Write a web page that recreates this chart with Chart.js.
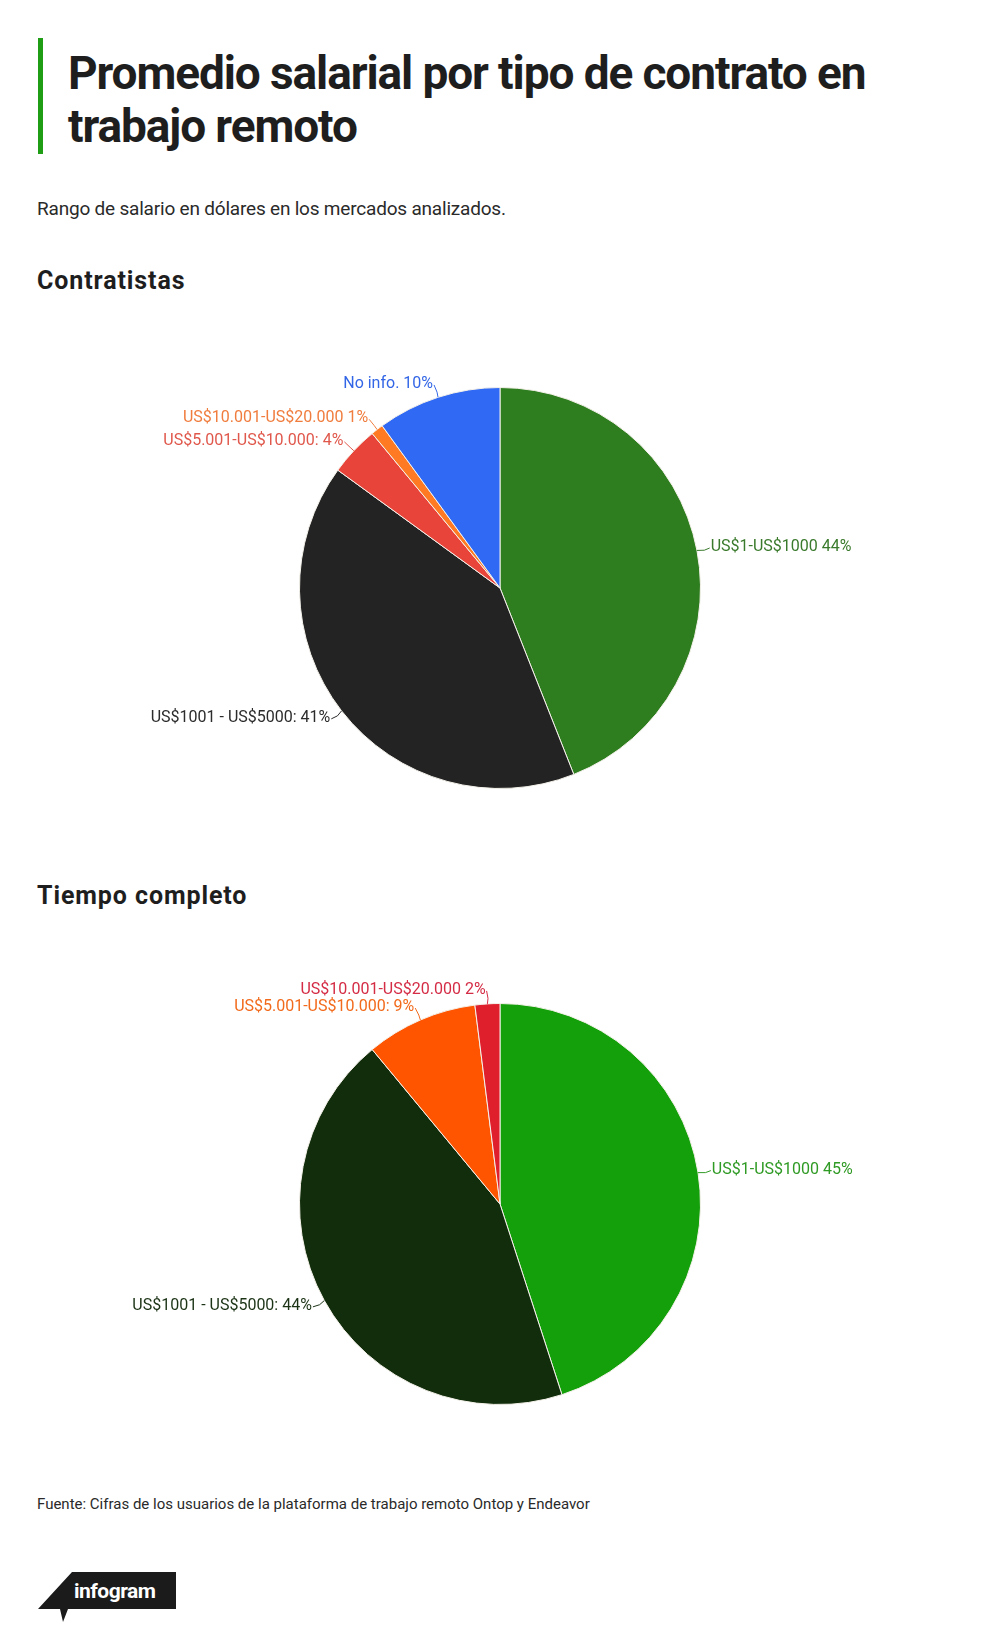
<!DOCTYPE html>
<html lang="es">
<head>
<meta charset="utf-8">
<title>Promedio salarial por tipo de contrato en trabajo remoto</title>
<script src="https://cdn.jsdelivr.net/npm/chart.js@4/dist/chart.umd.min.js"></script>
<style>
html,body{margin:0;padding:0;background:#fff;}
body{width:1000px;height:1641px;position:relative;overflow:hidden;font-family:Roboto,"Liberation Sans",sans-serif;color:#1e1e1e;}
.bar{position:absolute;left:38px;top:38px;width:5px;height:116px;background:#1f9d14;}
h1{position:absolute;left:68px;top:47px;margin:0;font-size:46px;line-height:53px;font-weight:700;letter-spacing:-1.1px;white-space:nowrap;}
.sub{position:absolute;left:37px;top:198px;font-size:19px;line-height:22px;letter-spacing:-0.2px;color:#2a2a2a;}
h2{position:absolute;left:37px;margin:0;font-size:25px;line-height:28px;font-weight:700;letter-spacing:0.9px;}
.chart{position:absolute;left:0;width:1000px;height:500px;}
.src{position:absolute;left:37px;top:1495px;font-size:15px;line-height:18px;letter-spacing:0;color:#2a2a2a;}
.logo{position:absolute;left:36px;top:1570px;}
</style>
</head>
<body>
<div class="bar"></div>
<h1>Promedio salarial por tipo de contrato en<br>trabajo remoto</h1>
<div class="sub">Rango de salario en dólares en los mercados analizados.</div>

<h2 style="top:267px">Contratistas</h2>
<div class="chart" style="top:338px"><canvas id="pie1"></canvas></div>

<h2 style="top:882px">Tiempo completo</h2>
<div class="chart" style="top:954px"><canvas id="pie2"></canvas></div>

<div class="src">Fuente: Cifras de los usuarios de la plataforma de trabajo remoto Ontop y Endeavor</div>

<svg class="logo" width="145" height="56" viewBox="0 0 145 56">
  <path d="M36 2 L140 2 L140 39 L32 39 L27 52 L24 39 L2 39 Z" fill="#1b1b1b"/>
  <text x="38" y="28" fill="#fff" font-family="'Liberation Sans Narrow','Roboto',sans-serif" font-size="21" font-weight="700" letter-spacing="-0.5">infogram</text>
</svg>

<script>
// Contratistas
const labelsContratistas = ["US$1-US$1000 44%", "US$1001 - US$5000: 41%", "US$5.001-US$10.000: 4%", "US$10.001-US$20.000 1%", "No info. 10%"]
const valoresContratistas = [44, 41, 4, 1, 10]
const coloresContratistas = ["#2e7d1f", "#232323", "#e8443a", "#ff7a22", "#2f69f4"]
const textoContratistas = ["#3a7a2c", "#2c2c2c", "#e0584c", "#f07d3e", "#3366e6"]

// Tiempo completo
const labelsTiempo = ["US$1-US$1000 45%", "US$1001 - US$5000: 44%", "US$5.001-US$10.000: 9%", "US$10.001-US$20.000 2%"]
const valoresTiempo = [45, 44, 9, 2]
const coloresTiempo = ["#14a00a", "#112d0b", "#ff5500", "#e01f2d"]
const textoTiempo = ["#2f9a24", "#1c3316", "#f26a1c", "#d42c45"]

// etiquetas fuera del pastel con una pequeña linea guia
const etiquetasPlugin = {
  id: "etiquetas",
  afterDatasetsDraw(chart, args, opts) {
    const ctx = chart.ctx
    const meta = chart.getDatasetMeta(0)
    const textos = chart.data.labels
    meta.data.forEach((arc, i) => {
      const mid = (arc.startAngle + arc.endAngle) / 2
      const r = arc.outerRadius
      const x0 = arc.x + Math.cos(mid) * r
      const y0 = arc.y + Math.sin(mid) * r
      const x1 = arc.x + Math.cos(mid) * (r + 13)
      const y1 = arc.y + Math.sin(mid) * (r + 13)
      const derecha = Math.cos(mid) > 0
      ctx.save()
      ctx.strokeStyle = opts.colores[i]
      ctx.lineWidth = 1
      ctx.beginPath()
      ctx.moveTo(x0, y0)
      ctx.quadraticCurveTo((x0 + x1) / 2 + 2, (y0 + y1) / 2 + 2, x1, y1)
      ctx.stroke()
      ctx.fillStyle = opts.colores[i]
      ctx.font = "16px Roboto, 'Liberation Sans', sans-serif"
      ctx.letterSpacing = "0px"
      ctx.textAlign = derecha ? "left" : "right"
      ctx.textBaseline = "middle"
      ctx.fillText(textos[i], x1 + (derecha ? 1 : -1), y1 - 1)
      ctx.restore()
    })
  }
}

const crearPastel = (id, labels, valores, colores, textos) => {
  return new Chart(document.getElementById(id), {
    type: "pie",
    data: {
      labels: labels,
      datasets: [{
        data: valores,
        backgroundColor: colores,
        borderColor: "#f4f1ea",
        borderWidth: 1
      }]
    },
    options: {
      responsive: true,
      maintainAspectRatio: false,
      animation: false,
      radius: 200.5,
      plugins: {
        legend: { display: false },
        tooltip: { enabled: false },
        etiquetas: { colores: textos }
      }
    },
    plugins: [etiquetasPlugin]
  })
}

crearPastel("pie1", labelsContratistas, valoresContratistas, coloresContratistas, textoContratistas)
crearPastel("pie2", labelsTiempo, valoresTiempo, coloresTiempo, textoTiempo)
</script>
</body>
</html>
